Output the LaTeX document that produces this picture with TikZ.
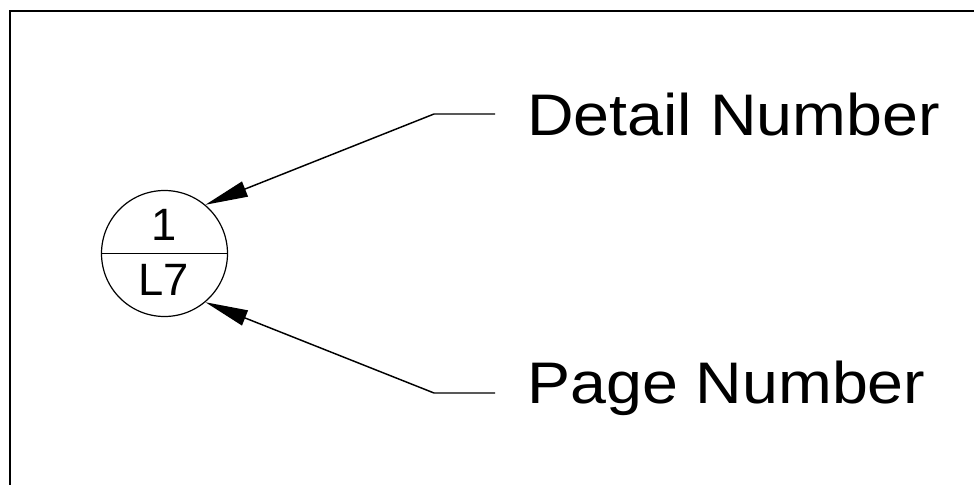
\documentclass[tikz,border=0pt]{standalone}
\usepackage{fontspec}
\setmainfont{Liberation Sans}
\newfontfamily\labelfont[FakeStretch=1.1]{Liberation Sans}
\usetikzlibrary{arrows.meta}
\tikzset{
  frame/.style={line width=1.5pt, draw=black},
  bubble/.style={circle, draw, line width=0.9pt, minimum size=94.5pt, inner sep=0pt},
  bubbletext/.style={font=\fontsize{34}{40}\selectfont, inner sep=0pt, anchor=base},
  labeltext/.style={font=\labelfont\fontsize{44}{52}\selectfont, inner ysep=0pt, inner xsep=24pt, anchor=base west},
  leader/.style={line width=1.1pt, -{Triangle[length=32pt, width=12pt]}}
}
\begin{document}
\begin{tikzpicture}[x=0.75pt, y=-0.75pt]
\useasboundingbox (0,0) rectangle (974,485);
\draw[frame] (9.5,11.5) rectangle (990,500);
\node[bubble] (c) at (164.5,253.5) {};
\draw[line width=0.9pt] (c.west) -- (c.east);
\node[bubbletext] (n1) at (164,240) {1};
\node[bubbletext] (n2) at (164,295) {L7};
\node[labeltext] (d) at (495,135) {Detail Number};
\node[labeltext] (p) at (495,403) {Page Number};
\coordinate (e1) at (434,114);
\coordinate (e2) at (434,393);
\draw[leader] (d.west |- e1) -- (e1) -- (c.50);
\draw[leader] (p.west |- e2) -- (e2) -- (c.-50);
\end{tikzpicture}
\end{document}
